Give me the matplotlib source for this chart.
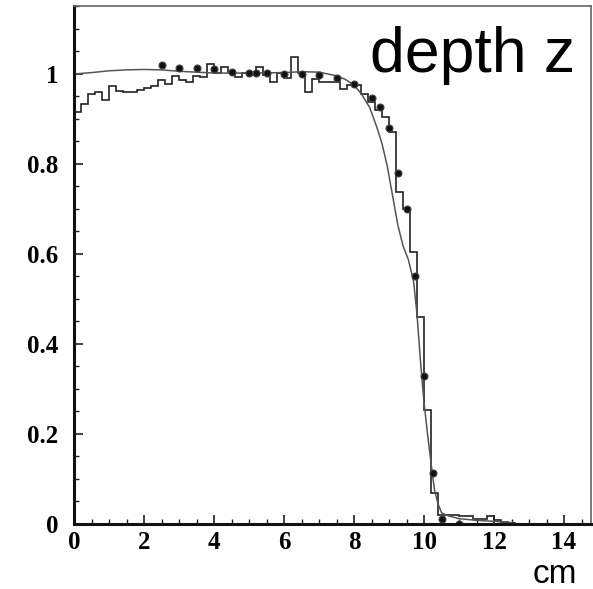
import numpy as np
import matplotlib
matplotlib.use("Agg")
import matplotlib.pyplot as plt
from matplotlib.ticker import MultipleLocator, FixedFormatter, FixedLocator

# histogram (bins of 0.2 cm, from 0 to 12.6)
hist_edges = np.round(np.arange(0, 12.61, 0.2), 2)
hist_values = [0.915, 0.934, 0.956, 0.961, 0.942, 0.974, 0.963, 0.959, 0.959, 0.964,
               0.968, 0.973, 0.986, 0.978, 0.995, 0.986, 0.983, 0.995, 0.994, 1.022,
               1.002, 1.015, 1.005, 0.993, 1.002, 1.002, 1.015, 0.998, 0.983, 1.002,
               0.991, 1.037, 1.002, 0.959, 0.988, 0.983, 0.983, 0.983, 0.966, 0.975,
               0.975, 0.955, 0.937, 0.92, 0.905, 0.872, 0.738, 0.701, 0.605, 0.461,
               0.253, 0.068, 0.02, 0.02, 0.02, 0.018, 0.018, 0.012, 0.012, 0.018,
               0.008, 0.004, 0.002]

# smooth curve
curve_x = [0, 0.5, 1.0, 1.5, 2.0, 2.5, 3.0, 3.5, 4.0, 5.0, 6.0, 6.5, 7.0, 7.5, 7.75,
           8.0, 8.2, 8.45, 8.65, 8.8, 8.95, 9.1, 9.25, 9.4, 9.55, 9.7, 9.8, 9.9, 10.0,
           10.1, 10.2, 10.3, 10.4, 10.5, 10.7, 11.0, 11.5, 12.0, 12.5]
curve_y = [1.0, 1.003, 1.007, 1.009, 1.01, 1.009, 1.006, 1.004, 1.002, 1.002, 1.003,
           1.005, 1.004, 0.996, 0.988, 0.975, 0.957, 0.925, 0.882, 0.845, 0.795, 0.73,
           0.665, 0.618, 0.588, 0.54, 0.465, 0.36, 0.27, 0.2, 0.135, 0.075, 0.045,
           0.025, 0.018, 0.012, 0.008, 0.006, 0.003]

# measured points
pts_x = [2.5, 3.0, 3.5, 4.0, 4.5, 5.0, 5.2, 5.5, 6.0, 6.5, 7.0, 7.5, 8.0, 8.5, 8.75,
         9.0, 9.25, 9.5, 9.75, 10.0, 10.25, 10.5, 11.0]
pts_y = [1.02, 1.014, 1.013, 1.011, 1.005, 1.003, 1.003, 1.0015, 1.0, 1.0, 0.998,
         0.99, 0.978, 0.946, 0.926, 0.88, 0.779, 0.701, 0.552, 0.329, 0.114, 0.01, 0.0]

xticks = [0, 2, 4, 6, 8, 10, 12, 14]
yticks = [0, 0.2, 0.4, 0.6, 0.8, 1.0]
ytick_labels = ["0", "0.2", "0.4", "0.6", "0.8", "1"]

fig = plt.figure(figsize=(5.93, 5.89), dpi=100)
ax = fig.add_axes([74/593, 1 - 524/589, (591-74)/593, (524-6)/589])

ax.stairs(hist_values, hist_edges, color="#222222", lw=1.2)
ax.plot(curve_x, curve_y, color="#555555", lw=1.1)
ax.plot(pts_x, pts_y, "o", ms=5, mfc="#111111", mec="#444444", mew=0.8)

ax.set_xlim(0, 14.77)
ax.set_ylim(0, 1.151)

ax.xaxis.set_major_locator(FixedLocator(xticks))
ax.xaxis.set_minor_locator(MultipleLocator(0.5))
ax.yaxis.set_major_locator(FixedLocator(yticks))
ax.yaxis.set_major_formatter(FixedFormatter(ytick_labels))
ax.yaxis.set_minor_locator(MultipleLocator(0.05))

for lab in ax.get_xticklabels() + ax.get_yticklabels():
    lab.set_fontfamily("Liberation Serif")
    lab.set_fontweight("bold")
    lab.set_fontsize(18)

ax.tick_params(which="both", direction="in", top=False, right=False, color="#222222")
ax.tick_params(which="major", length=6.5, width=1.2)
ax.tick_params(which="minor", length=3.5, width=1.0)
ax.tick_params(axis="x", which="major", pad=5)
ax.tick_params(axis="y", which="major", pad=11)

for s in ["left", "bottom"]:
    ax.spines[s].set_linewidth(2.2)
    ax.spines[s].set_color("#111111")
for s in ["top", "right"]:
    ax.spines[s].set_linewidth(1.2)
    ax.spines[s].set_color("#666666")

fig.text(575/593, 1 - 72/589, "depth z", family="Liberation Sans", fontsize=45,
         ha="right", va="baseline")
fig.text(577/593, 1 - 583/589, "cm", family="Liberation Sans", fontsize=24,
         ha="right", va="baseline")

fig.savefig("out.png", dpi=100)
